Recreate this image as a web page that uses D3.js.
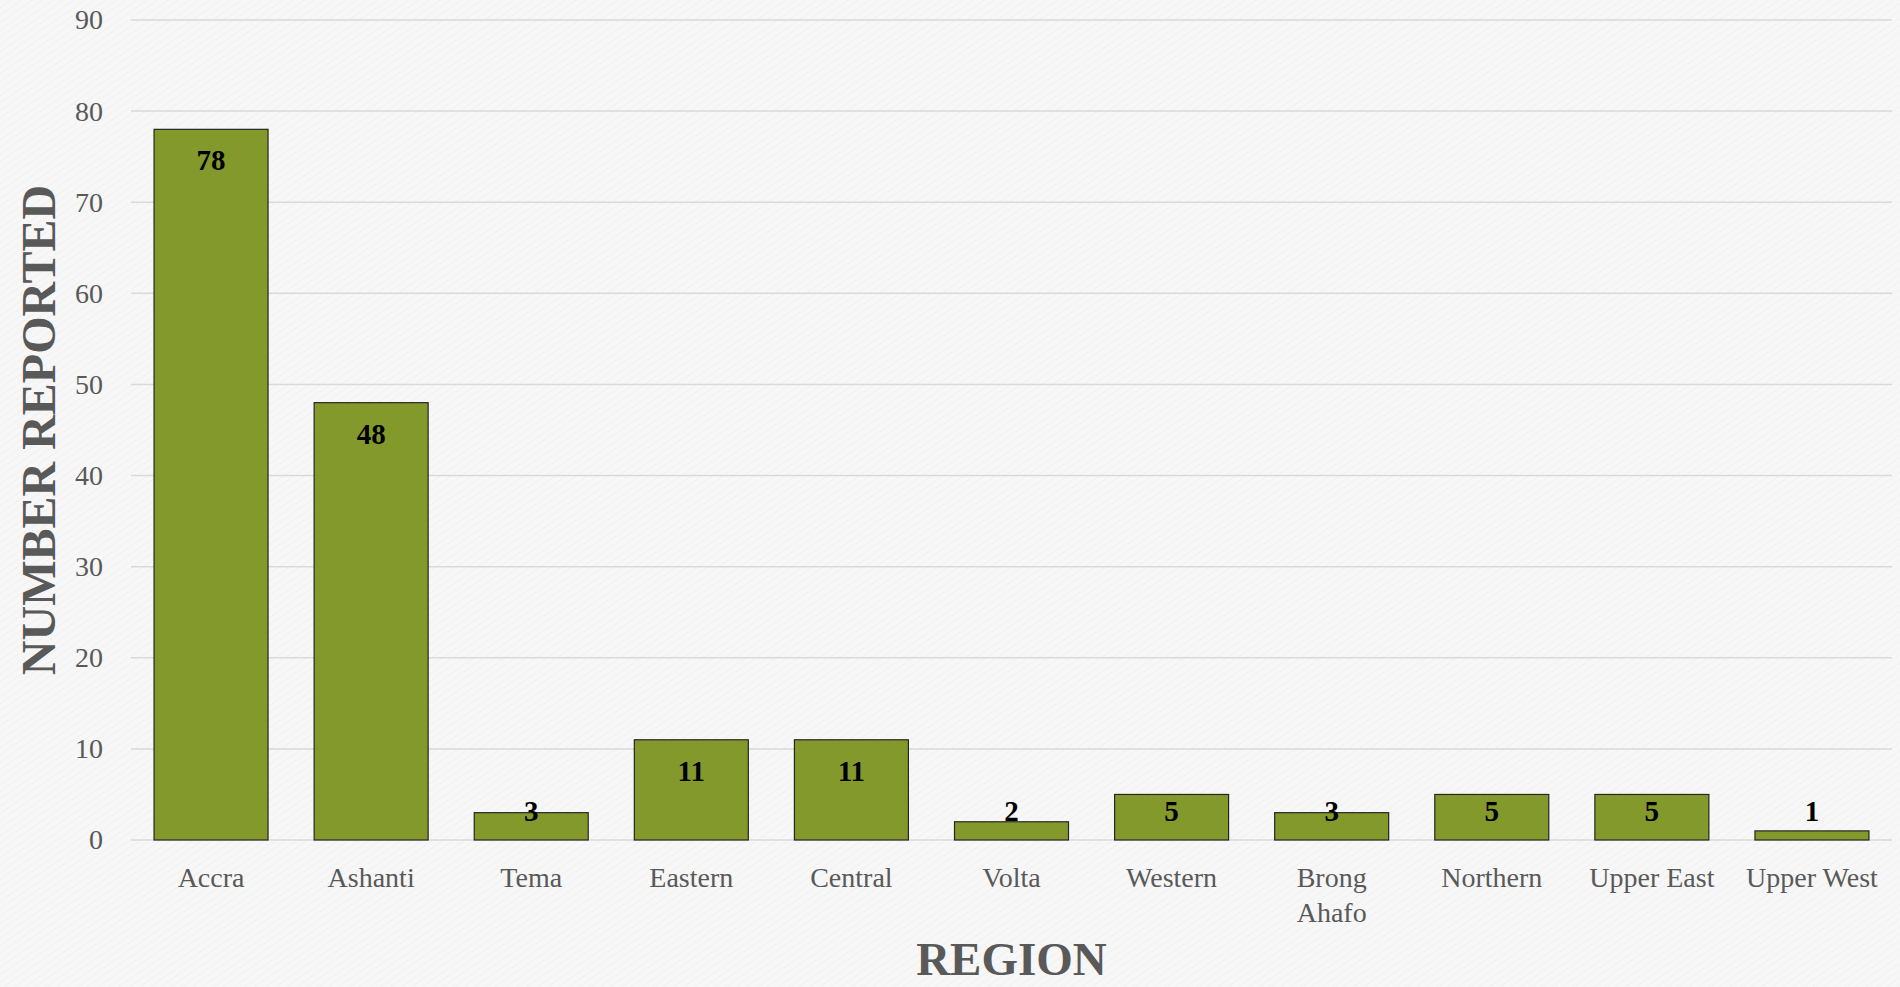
<!DOCTYPE html>
<html>
<head>
<meta charset="utf-8">
<script src="https://cdn.jsdelivr.net/npm/d3@7"></script>
<style>
  html, body { margin: 0; padding: 0; background: #f6f6f6; }
  svg { display: block; }
</style>
</head>
<body>
<svg id="chart" width="1900" height="987"></svg>
<script>
const categories = ["Accra", "Ashanti", "Tema", "Eastern", "Central", "Volta", "Western", "Brong Ahafo", "Northern", "Upper East", "Upper West"];
const values = [78, 48, 3, 11, 11, 2, 5, 3, 5, 5, 1];
const yTicks = [0, 10, 20, 30, 40, 50, 60, 70, 80, 90];
const xTitle = "REGION";
const yTitle = "NUMBER REPORTED";

const W = 1900, H = 987;
const margin = { left: 131, right: 8, top: 20, bottom: 147 };
const svg = d3.select("#chart");
const font = "'Liberation Serif', 'Times New Roman', serif";

// subtle paper texture
const defs = svg.append("defs");
const pat = defs.append("pattern").attr("id", "paper").attr("width", 6).attr("height", 6)
  .attr("patternUnits", "userSpaceOnUse").attr("patternTransform", "rotate(-35)");
pat.append("rect").attr("width", 6).attr("height", 6).attr("fill", "#f7f7f7");
pat.append("line").attr("x1", 0).attr("y1", 0).attr("x2", 6).attr("y2", 0)
  .attr("stroke", "#efefef").attr("stroke-width", 1.5);
svg.append("rect").attr("width", W).attr("height", H).attr("fill", "url(#paper)");

const x = d3.scaleBand().domain(categories)
  .range([margin.left, W - margin.right]).paddingInner(0.288).paddingOuter(0.144);
const y = d3.scaleLinear().domain([0, 90]).range([H - margin.bottom, margin.top]);

// gridlines
svg.append("g").selectAll("line").data(yTicks).join("line")
  .attr("x1", margin.left).attr("x2", W - margin.right)
  .attr("y1", d => y(d)).attr("y2", d => y(d))
  .attr("stroke", "#d9d9d9").attr("stroke-width", 1.5);

// y axis labels
const yAxis = d3.axisLeft(y).tickValues(yTicks).tickSize(0).tickPadding(28);
const yg = svg.append("g").attr("transform", `translate(${margin.left},0)`).call(yAxis);
yg.select(".domain").remove();
yg.selectAll("text").attr("font-family", font).attr("font-size", 28).attr("fill", "#595959");

// bars
const data = categories.map((c, i) => ({ c, v: values[i] }));
svg.append("g").selectAll("rect").data(data).join("rect")
  .attr("x", d => x(d.c)).attr("width", x.bandwidth())
  .attr("y", d => y(d.v)).attr("height", d => y(0) - y(d.v))
  .attr("fill", "#84992b").attr("stroke", "#262626").attr("stroke-width", 1.2);

// value labels (inside end, clamped near the base)
svg.append("g").selectAll("text").data(data).join("text")
  .attr("x", d => x(d.c) + x.bandwidth() / 2)
  .attr("y", d => Math.min(y(d.v) + 41, y(0) - 19))
  .attr("text-anchor", "middle")
  .attr("font-family", font).attr("font-size", 29).attr("font-weight", "bold")
  .attr("fill", "#000")
  .text(d => d.v);

// x axis category labels
const xg = svg.append("g");
xg.selectAll("text").data(categories).join("text")
  .attr("x", d => x(d) + x.bandwidth() / 2)
  .attr("y", y(0) + 47)
  .attr("text-anchor", "middle")
  .attr("font-family", font).attr("font-size", 28).attr("fill", "#595959")
  .each(function (d) {
    const t = d3.select(this);
    const words = d === "Brong Ahafo" ? d.split(" ") : [d];
    words.forEach((w, i) => {
      t.append("tspan").attr("x", x(d) + x.bandwidth() / 2).attr("dy", i === 0 ? 0 : 35).text(w);
    });
  });

// axis titles
svg.append("text")
  .attr("x", (margin.left + W - margin.right) / 2).attr("y", 975)
  .attr("text-anchor", "middle")
  .attr("font-family", font).attr("font-size", 47).attr("font-weight", "bold")
  .attr("fill", "#595959").text(xTitle);

svg.append("text")
  .attr("transform", `translate(55,${(y(0) + y(90)) / 2}) rotate(-90)`)
  .attr("text-anchor", "middle")
  .attr("font-family", font).attr("font-size", 48).attr("font-weight", "bold")
  .attr("fill", "#595959").text(yTitle);
</script>
</body>
</html>
